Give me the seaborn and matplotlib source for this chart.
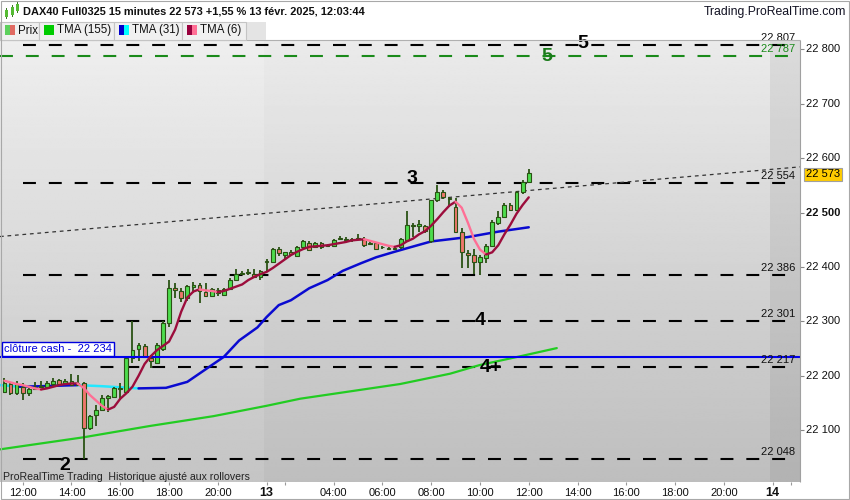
import numpy as np
import pandas as pd
import matplotlib
matplotlib.use("Agg")
import matplotlib.pyplot as plt
import seaborn as sns
from matplotlib.patches import Rectangle

# ------------------------------------------------------------------ data
opens = [22170, 22185, 22168, 22180, 22168, 22175, 22179, 22180, 22185, 22192,
         22185, 22190, 22184, 22187, 22105, 22129, 22137, 22159, 22162, 22176,
         22171, 22232, 22249, 22255, 22232, 22223, 22250, 22297, 22361, 22356,
         22343, 22364, 22367, 22354, 22346, 22352, 22349, 22359, 22376, 22387,
         22389, 22388, 22381, 22409, 22409, 22434, 22422, 22428, 22420, 22436,
         22445, 22437, 22444, 22440, 22439, 22451, 22451, 22449, 22452, 22451,
         22442, 22444, 22437, 22435, 22434, 22437, 22450, 22476, 22475, 22475,
         22447, 22523, 22538, 22527, 22511, 22465, 22426, 22422, 22410, 22416,
         22439, 22480, 22492, 22514, 22505, 22537, 22557]
highs = [22197, 22189, 22190, 22186, 22180, 22189, 22190, 22191, 22197, 22195,
         22194, 22204, 22202, 22189, 22128, 22146, 22164, 22165, 22179, 22186,
         22234, 22300, 22260, 22258, 22238, 22260, 22300, 22376, 22370, 22361,
         22367, 22372, 22370, 22370, 22362, 22362, 22362, 22379, 22396, 22392,
         22397, 22397, 22394, 22414, 22435, 22436, 22428, 22431, 22438, 22449,
         22447, 22446, 22446, 22442, 22452, 22457, 22455, 22453, 22460, 22455,
         22447, 22446, 22439, 22437, 22437, 22453, 22502, 22480, 22486, 22478,
         22524, 22551, 22541, 22528, 22527, 22471, 22431, 22434, 22422, 22442,
         22486, 22502, 22517, 22517, 22540, 22559, 22581]
lows = [22168, 22165, 22164, 22156, 22163, 22174, 22177, 22177, 22180, 22181,
        22183, 22181, 22181, 22047, 22101, 22107, 22136, 22134, 22160, 22156,
        22169, 22223, 22228, 22232, 22214, 22221, 22245, 22289, 22343, 22335,
        22338, 22352, 22333, 22345, 22344, 22346, 22347, 22357, 22374, 22385,
        22386, 22379, 22377, 22393, 22407, 22421, 22413, 22420, 22418, 22434,
        22429, 22435, 22434, 22436, 22437, 22450, 22447, 22446, 22450, 22437,
        22440, 22432, 22434, 22432, 22432, 22434, 22447, 22456, 22465, 22463,
        22445, 22520, 22525, 22511, 22462, 22398, 22399, 22388, 22385, 22408,
        22436, 22478, 22490, 22502, 22502, 22535, 22555]
closes = [22186, 22168, 22185, 22168, 22176, 22180, 22182, 22187, 22190, 22185,
          22190, 22183, 22187, 22105, 22126, 22137, 22159, 22163, 22177, 22178,
          22232, 22248, 22257, 22235, 22228, 22257, 22298, 22361, 22357, 22343,
          22365, 22367, 22356, 22347, 22360, 22358, 22359, 22377, 22388, 22389,
          22390, 22381, 22393, 22411, 22434, 22426, 22427, 22423, 22436, 22447,
          22431, 22444, 22436, 22438, 22450, 22452, 22450, 22451, 22453, 22440,
          22445, 22434, 22436, 22434, 22435, 22451, 22477, 22478, 22479, 22466,
          22523, 22538, 22529, 22525, 22465, 22428, 22422, 22410, 22418, 22439,
          22483, 22492, 22514, 22505, 22538, 22557, 22573]

tma6 = [22191, 22188, 22185, 22183, 22180, 22177, 22175, 22177, 22180, 22183,
        22185, 22186, 22186, 22178, 22165, 22155, 22145, 22138, 22143, 22158,
        22168, 22180, 22200, 22222, 22236, 22247, 22255, 22263, 22285, 22318,
        22344, 22355, 22359, 22357, 22356, 22354, 22356, 22360, 22364, 22368,
        22376, 22382, 22387, 22391, 22398, 22406, 22414, 22422, 22428, 22433,
        22437, 22438, 22439, 22440, 22442, 22444, 22446, 22449, 22450, 22451,
        22448, 22445, 22442, 22439, 22437, 22440, 22447, 22452, 22460, 22466,
        22476, 22488, 22501, 22513, 22520, 22509, 22482, 22452, 22432, 22423,
        22427, 22440, 22460, 22478, 22498, 22514, 22528]

tma31_idx = [-0.7, 2.5, 6, 12, 16, 19, 22, 26.5, 30, 33, 36, 38.5, 41.5, 43,
             45, 47, 50, 53, 55.5, 58.5, 61, 64, 66.5, 70, 76, 81, 86]
tma31_val = [22183, 22180, 22181, 22183, 22181, 22179, 22177, 22178, 22189,
             22212, 22235, 22265, 22289, 22308, 22330, 22339, 22361, 22376,
             22393, 22407, 22418, 22428, 22436, 22447, 22455, 22465, 22473]

tma155_idx = [-0.7, 12.9, 23.9, 34.3, 43, 48.5, 64.9, 73.1, 78, 84.6, 90.6]
tma155_val = [22065, 22087, 22108, 22126, 22145, 22158, 22185, 22204, 22220,
              22236, 22251]

black_levels = [22807, 22554, 22386, 22301, 22217, 22048]
green_level = 22787
cash_close = 22234
trend_prices = [22456, 22584]

price_ticks = [22100, 22200, 22300, 22400, 22500, 22600, 22700, 22800]
price_tick_labels = ["22 100", "22 200", "22 300", "22 400", "22 500",
                     "22 600", "22 700", "22 800"]
time_tick_idx = [3, 11, 19, 27, 35, 43, 46, 54, 62, 70, 78, 86, 94, 102, 110,
                 118, 126, 129]
time_tick_labels = ["12:00", "14:00", "16:00", "18:00", "20:00", "13", "",
                    "04:00", "06:00", "08:00", "10:00", "12:00", "14:00",
                    "16:00", "18:00", "20:00", "14", ""]

wave_texts = ["2", "3", "4", "4+", "5", "5"]
wave_idx = [9.9, 66.8, 78.0, 79.8, 94.9, 89.0]
wave_price = [22036, 22562, 22301, 22216, 22810, 22786]
wave_colors = ["black", "black", "black", "black", "black", "#1a7a1a"]

last_price = 22573

# ------------------------------------------------------------------ style
sns.set_style("white")
plt.rcParams['font.family'] = ['Liberation Sans', 'DejaVu Sans']

W, H = 850, 500
fig = plt.figure(figsize=(W / 100, H / 100), dpi=100)
fig.patch.set_facecolor("white")


def fx(px):
    return px / W


def fy(py):
    return 1 - py / H


ax = fig.add_axes([0, (H - 482) / H, 800 / W, 442 / H])
XMIN, XMAX = -0.7217, 130.49
YMIN, YMAX = 22005.0, 22817.1
ax.set_xlim(XMIN, XMAX)
ax.set_ylim(YMIN, YMAX)


def grad(x0, x1, top, bot):
    g = np.linspace(top, bot, 256).reshape(-1, 1)
    ax.imshow(g, extent=[x0, x1, YMIN, YMAX], aspect="auto", cmap="gray",
              vmin=0, vmax=1, zorder=0, interpolation="bilinear")


grad(XMIN, 42.55, 0.935, 0.77)
grad(42.55, 125.6, 0.92, 0.745)
grad(125.6, XMAX, 0.86, 0.70)
ax.set_xlim(XMIN, XMAX)
ax.set_ylim(YMIN, YMAX)

# dashed levels
lx0 = (23 - 4.4) / 6.097
lx1 = (790 - 4.4) / 6.097
for lv in black_levels:
    ax.hlines(lv, lx0, lx1, colors="black", lw=1.5,
              linestyles=(0, (6.2, 6.2)), zorder=2)
    ax.annotate(f"{lv:,}".replace(",", " "), xy=((795 - 4.4) / 6.097, lv),
                xytext=(0, 1.5), textcoords="offset points", ha="right",
                va="bottom", fontsize=8, color="#111111", zorder=6)
ax.hlines(green_level, XMIN, lx1, colors="#1a8a1a", lw=1.5,
          linestyles=(0, (6.2, 6.2)), zorder=2)
ax.annotate(f"{green_level:,}".replace(",", " "), xy=((795 - 4.4) / 6.097, green_level),
            xytext=(0, 1.5), textcoords="offset points", ha="right",
            va="bottom", fontsize=8, color="#1a8a1a", zorder=6)

# trend line
ax.plot([XMIN, XMAX], trend_prices, color="#333333", lw=0.9,
        linestyle=(0, (3, 3)), zorder=2)

# cash close line
ax.axhline(cash_close, color="#0000ee", lw=1.5, zorder=5)

# TMA 155
df155 = pd.DataFrame({"x": tma155_idx, "y": tma155_val})
sns.lineplot(data=df155, x="x", y="y", ax=ax, color="#22cc22", lw=1.6,
             zorder=3, sort=False)


def draw_dir_line(xs, ys, up_col, dn_col, lw, z):
    xs = list(xs)
    ys = list(ys)
    n = len(xs)
    start = 0
    while start < n - 1:
        up = ys[start + 1] >= ys[start]
        end = start + 1
        while end < n - 1 and (ys[end + 1] >= ys[end]) == up:
            end += 1
        seg = pd.DataFrame({"x": xs[start:end + 1], "y": ys[start:end + 1]})
        sns.lineplot(data=seg, x="x", y="y", ax=ax,
                     color=up_col if up else dn_col, lw=lw, zorder=z,
                     sort=False)
        start = end


draw_dir_line(tma31_idx, tma31_val, "#0a0ad0", "#22e8ff", 1.8, 3)

# candles
idx = np.arange(len(opens))
o = np.array(opens, float)
c = np.array(closes, float)
hi = np.array(highs, float)
lo = np.array(lows, float)
ax.vlines(idx, lo, hi, color="#2a5214", lw=1.3, zorder=4)
bottoms = np.minimum(o, c)
heights = np.maximum(np.abs(c - o), 1.6)
cols = np.where(c >= o, "#4ddc4d", "#ee776c")
ax.bar(idx, heights, bottom=bottoms, width=0.62, color=cols,
       edgecolor="#2a5214", linewidth=0.8, zorder=4)

draw_dir_line(list(idx), tma6, "#9c0d3c", "#ff6f95", 1.7, 5)

# wave labels
for t, xi, yp, col in zip(wave_texts, wave_idx, wave_price, wave_colors):
    ax.text(xi, yp, t, ha="center", va="center", fontsize=14,
            fontweight="bold", color=col, zorder=7)

ax.set_xticks([])
ax.set_yticks([])
for s in ax.spines.values():
    s.set_visible(False)
ax.set_xlabel("")
ax.set_ylabel("")

# bottom note
fig.text(fx(3), fy(476.5), "ProRealTime Trading  Historique ajusté aux rollovers",
         fontsize=7.6, color="#222222", ha="left", va="center")

# ------------------------------------------------------------------ frame / header
fig.add_artist(Rectangle((fx(0), fy(40)), fx(800), 0, transform=fig.transFigure,
                         edgecolor="#b0b0b0", lw=0.8, fill=False))
fig.text(fx(23), fy(12), "DAX40 Full0325 15 minutes 22 573 +1,55 % 13 févr. 2025, 12:03:44",
         fontsize=7.9, fontweight="bold", color="#111111", ha="left", va="center")
fig.text(fx(846), fy(12), "Trading.ProRealTime.com", fontsize=8.8,
         color="#111122", ha="right", va="center")

# header icon (small candles)
for (x0, y0, h, col) in [(5, 10, 7, "#55bb33"), (11, 7, 8, "#55bb33"), (16, 4, 7, "#55bb33")]:
    fig.add_artist(Rectangle((fx(x0 + 1), fy(y0 + h + 2)), fx(1), (h + 4) / H,
                             transform=fig.transFigure, color="#3a7a22", lw=0))
    fig.add_artist(Rectangle((fx(x0), fy(y0 + h)), fx(3), h / H,
                             transform=fig.transFigure, color=col, lw=0))

# legend row
fig.add_artist(Rectangle((fx(0), fy(40)), fx(266), 18 / H, transform=fig.transFigure,
                         facecolor="#e4e4e4", edgecolor="none"))
boxes = [(0, 39.3, "Prix", ("#5cd05c", "#e06a62")),
         (39.3, 114.3, "TMA (155)", ("#00cc00", "#00cc00")),
         (114.3, 181.7, "TMA (31)", ("#0000cc", "#00ffff")),
         (181.7, 245.7, "TMA (6)", ("#99003d", "#ff6f95"))]
for x0, x1, lab, (c1, c2) in boxes:
    fig.add_artist(Rectangle((fx(x0), fy(40)), fx(x1 - x0), 18 / H,
                             transform=fig.transFigure, facecolor="#f0f0f0",
                             edgecolor="#c4c4c4", lw=0.8))
    fig.add_artist(Rectangle((fx(x0 + 5), fy(35)), fx(5), 10 / H,
                             transform=fig.transFigure, color=c1, lw=0))
    fig.add_artist(Rectangle((fx(x0 + 10), fy(35)), fx(5), 10 / H,
                             transform=fig.transFigure, color=c2, lw=0))
    fig.text(fx(x0 + 18), fy(30.5), lab, fontsize=8.3, color="#111111",
             ha="left", va="center")

# right axis
for pt, lab in zip(price_ticks, price_tick_labels):
    py = 49.3 + (22800 - pt) * 0.5443
    fig.add_artist(Rectangle((fx(800), fy(py)), fx(4), 0, transform=fig.transFigure,
                             edgecolor="#888888", lw=0.8, fill=False))
    fig.text(fx(806), fy(py), lab, fontsize=8, color="#111111", ha="left",
             va="center", fontweight="bold" if pt == 22500 else "normal")

# last price tag
lp_y = 49.3 + (22800 - last_price) * 0.5443
fig.text(fx(806), fy(lp_y + 1.5), f"{last_price:,}".replace(",", " "), fontsize=8,
         color="black", ha="left", va="center",
         bbox=dict(boxstyle="square,pad=0.15", facecolor="#ffcc00",
                   edgecolor="#a0a0a0", lw=0.8))

# cash close label
fig.text(fx(4), fy(349), "clôture cash -  22 234", fontsize=8, color="#0000dd",
         ha="left", va="center",
         bbox=dict(boxstyle="square,pad=0.2", facecolor="white",
                   edgecolor="#0000dd", lw=1.0))

# bottom axis
for ti, lab in zip(time_tick_idx, time_tick_labels):
    px = 4.4 + 6.097 * ti
    fig.add_artist(Rectangle((fx(px), fy(485)), 0, 3 / H, transform=fig.transFigure,
                             edgecolor="#999999", lw=0.8, fill=False))
    if lab:
        bold = lab in ("13", "14")
        fig.text(fx(px), fy(492.5), lab, fontsize=9 if bold else 8,
                 fontweight="bold" if bold else "normal", color="#111111",
                 ha="center", va="center")

# outer frame
fig.add_artist(Rectangle((fx(0.5), fy(498.5)), fx(848), 498 / H,
                         transform=fig.transFigure, edgecolor="#a8a8a8", lw=0.8,
                         fill=False))
fig.add_artist(Rectangle((fx(800), fy(482)), 0, 442 / H, transform=fig.transFigure,
                         edgecolor="#a0a0a0", lw=0.8, fill=False))

fig.savefig("out.png", dpi=100)
